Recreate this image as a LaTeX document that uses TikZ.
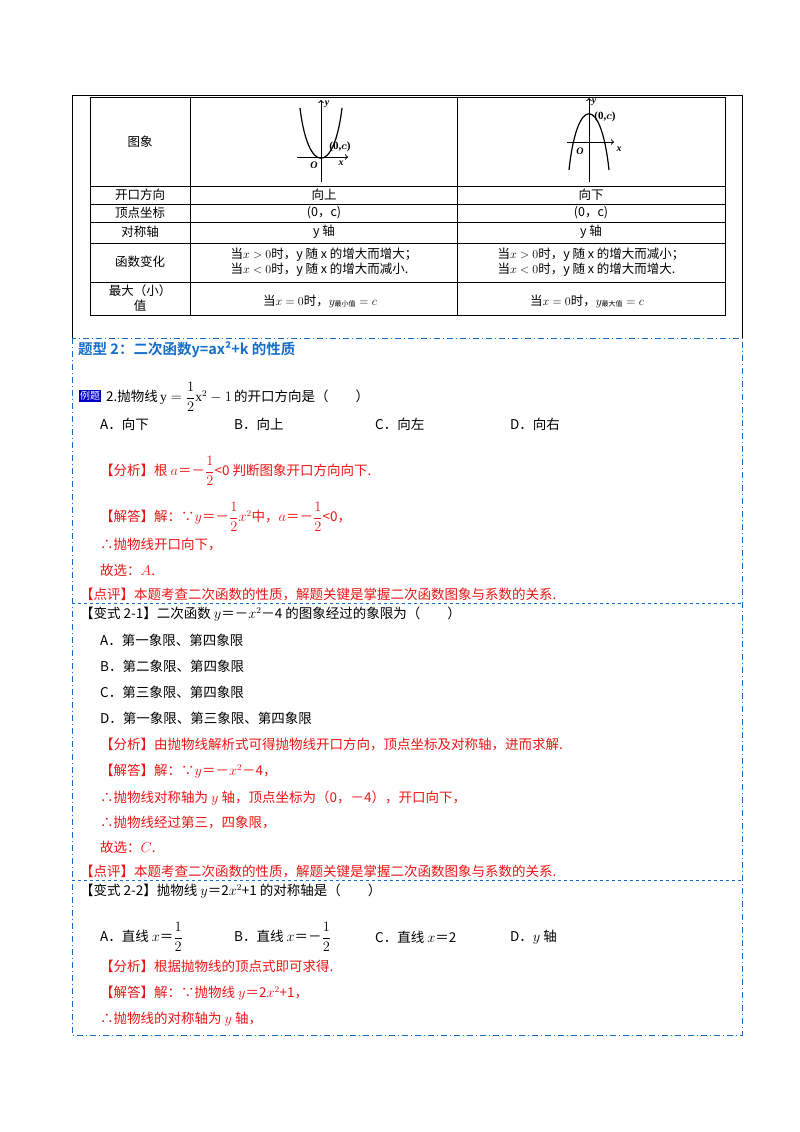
\documentclass[tikz,border=0pt]{standalone}
\usepackage{amsmath}
\usepackage{fontspec}
\setmainfont{Liberation Serif}
\newfontfamily\cjk{Noto Sans CJK SC}
\definecolor{hb}{RGB}{20,110,200}
\definecolor{rd}{RGB}{235,20,20}
\begin{document}
\begin{tikzpicture}[x=1pt,y=-1pt,
  t/.style={anchor=west,inner sep=0pt,font=\cjk\fontsize{13.5}{15}\selectfont},
  c/.style={inner sep=0pt,font=\cjk\fontsize{12.5}{15}\selectfont},
  r/.style={t,text=rd},
  lb/.style={font=\bfseries\fontsize{11}{12}\selectfont,inner sep=0pt},
  frame/.style={hb,dash pattern=on 6pt off 3pt on 1pt off 3pt,line width=0.8pt},
  sep/.style={hb,dashed,line width=0.7pt}]
\useasboundingbox (0,0) rectangle (800,1132);
% outer frame
\draw[line width=0.7pt] (72,338) -- (72,95) -- (742,95) -- (742,338);
% table
\draw[line width=0.8pt] (90,97) rectangle (725,315);
\foreach \yy in {186,204,222,243,282} \draw (90,\yy) -- (725,\yy);
\draw (190,97) -- (190,315); \draw (457,97) -- (457,315);
\node[c] (h1) at (140,142) {图象};
\node[c] (h2) at (140,195) {开口方向};
\node[c] (h3) at (140,213) {顶点坐标};
\node[c] (h4) at (140,232) {对称轴};
\node[c] (h5) at (140,262) {函数变化};
\node[c,align=center] (h6) at (140,298) {最大（小）\\值};
\node[c] (a2) at (324,195) {向上};
\node[c] (b2) at (591,195) {向下};
\node[c] (a3) at (324,213) {(0，c)};
\node[c] (b3) at (591,213) {(0，c)};
\node[c] (a4) at (324,232) {y 轴};
\node[c] (b4) at (591,232) {y 轴};
\node[c,align=left] (a5) at (324,262) {当$x>0$时，y 随 x 的增大而增大；\\当$x<0$时，y 随 x 的增大而减小.};
\node[c,align=left] (b5) at (591,262) {当$x>0$时，y 随 x 的增大而减小；\\当$x<0$时，y 随 x 的增大而增大.};
\node[c] (a6) at (320,301) {当$x=0$时，$y_{\mbox{\cjk\scriptsize 最小值}}=c$};
\node[c] (b6) at (587,301) {当$x=0$时，$y_{\mbox{\cjk\scriptsize 最大值}}=c$};
% graph 1
\draw[->,line width=1pt] (321,182) -- (321,100);
\draw[->,line width=1pt] (297,157) -- (348,157);
\draw[line width=1.2pt] (300,108) .. controls (308,175) and (334,175) .. (342,108);
\node[lb,font=\bfseries\itshape] (y1) at (327,104) {y};
\node[lb] (c1) at (340,147) {(0,$\boldsymbol{c}$)};
\node[lb,font=\bfseries\itshape] (o1) at (314,165) {O};
\node[lb,font=\bfseries\itshape] (x1) at (341,163) {x};
% graph 2
\draw[->,line width=1pt] (589,182) -- (589,98);
\draw[->,line width=1pt] (567,142) -- (614,142);
\draw[line width=1.2pt] (569,170) .. controls (577,95) and (601,95) .. (609,170);
\node[lb,font=\bfseries\itshape] (y2) at (594,102) {y};
\node[lb] (c2) at (605,117) {(0,$\boldsymbol{c}$)};
\node[lb,font=\bfseries\itshape] (o2) at (580,151) {O};
\node[lb,font=\bfseries\itshape] (x2) at (619,149) {x};
% dashed frame
\draw[frame] (72,338) rectangle (742,1035);
\draw[sep] (72,603) -- (742,603);
\draw[sep] (72,880) -- (742,880);
\node[t,text=hb,font=\fontspec{Noto Sans CJK SC Bold}\fontsize{14.5}{16}\selectfont] (ti) at (78,350) {题型 2：二次函数y=ax²+k 的性质};
\node[fill=blue!75!black,text=white,inner sep=1pt,font=\cjk\fontsize{10}{11}\selectfont,anchor=west] (lt) at (79,396) {例题};
\node[t] (q) at (106,397) {2.抛物线\,$\mathrm{y}=\dfrac{1}{2}\mathrm{x}^2-1$\,的开口方向是（\quad\quad）};
\node[t] (oa) at (100,424) {A．向下};
\node[t] (ob) at (234,424) {B．向上};
\node[t] (oc) at (375,424) {C．向左};
\node[t] (od) at (510,424) {D．向右};
\node[r] (f1) at (100,471) {【分析】根 $a$＝－$\dfrac12$<0 判断图象开口方向向下.};
\node[r] (j1) at (100,517) {【解答】解：∵$y$＝－$\dfrac12x^2$中，$a$＝－$\dfrac12$<0，};
\node[r] (s1) at (100,545) {∴抛物线开口向下，};
\node[r] (g1) at (100,570) {故选：$A$.};
\node[r] (p1) at (80,595) {【点评】本题考查二次函数的性质，解题关键是掌握二次函数图象与系数的关系.};
\node[t] (q2) at (80,614) {【变式 2-1】二次函数 $y$＝－$x^2$－4 的图象经过的象限为（\quad\quad）};
\node[t] (q2a) at (100,640) {A．第一象限、第四象限};
\node[t] (q2b) at (100,666) {B．第二象限、第四象限};
\node[t] (q2c) at (100,692) {C．第三象限、第四象限};
\node[t] (q2d) at (100,718) {D．第一象限、第三象限、第四象限};
\node[r] (f2) at (100,745) {【分析】由抛物线解析式可得抛物线开口方向，顶点坐标及对称轴，进而求解.};
\node[r] (j2) at (100,771) {【解答】解：∵$y$＝－$x^2$－4，};
\node[r] (l2) at (100,798) {∴抛物线对称轴为 $y$ 轴，顶点坐标为（0，－4），开口向下，};
\node[r] (m2) at (100,823) {∴抛物线经过第三，四象限，};
\node[r] (g2) at (100,847) {故选：$C$.};
\node[r] (p2) at (80,872) {【点评】本题考查二次函数的性质，解题关键是掌握二次函数图象与系数的关系.};
\node[t] (q3) at (80,891) {【变式 2-2】抛物线 $y$＝2$x^2$+1 的对称轴是（\quad\quad）};
\node[t] (q3a) at (100,937) {A．直线 $x$＝$\dfrac12$};
\node[t] (q3b) at (234,937) {B．直线 $x$＝－$\dfrac12$};
\node[t] (q3c) at (375,937) {C．直线 $x$＝2};
\node[t] (q3d) at (510,937) {D．$y$ 轴};
\node[r] (f3) at (100,966) {【分析】根据抛物线的顶点式即可求得.};
\node[r] (j3) at (100,993) {【解答】解：∵抛物线 $y$＝2$x^2$+1，};
\node[r] (l3) at (100,1019) {∴抛物线的对称轴为 $y$ 轴，};
\end{tikzpicture}
\end{document}
